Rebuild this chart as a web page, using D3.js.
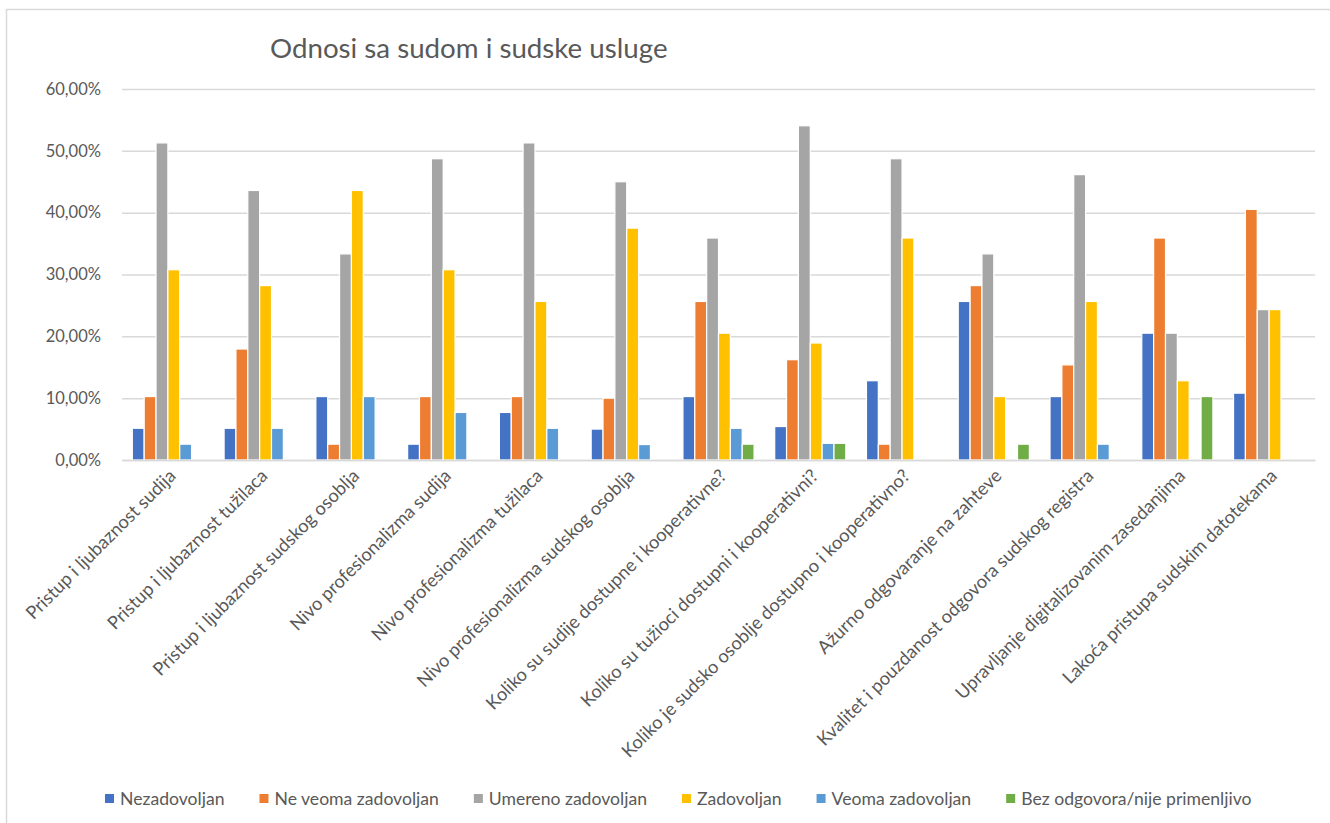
<!DOCTYPE html>
<html>
<head>
<meta charset="utf-8">
<script src="https://cdn.jsdelivr.net/npm/d3@7/dist/d3.min.js"></script>
<style>
  html, body { margin: 0; padding: 0; background: #fff; }
  svg { display: block; font-family: Lato, "Open Sans", sans-serif; }
</style>
</head>
<body>
<svg id="chart" width="1330" height="823"></svg>
<script>
// Survey results: satisfaction with court relations and services (share of answers, %)
const categories = [
  "Pristup i ljubaznost sudija",
  "Pristup i ljubaznost tužilaca",
  "Pristup i ljubaznost sudskog osoblja",
  "Nivo profesionalizma sudija",
  "Nivo profesionalizma tužilaca",
  "Nivo profesionalizma sudskog osoblja",
  "Koliko su sudije dostupne i kooperativne?",
  "Koliko su tužioci dostupni i kooperativni?",
  "Koliko je sudsko osoblje dostupno i kooperativno?",
  "Ažurno odgovaranje na zahteve",
  "Kvalitet i pouzdanost odgovora sudskog registra",
  "Upravljanje digitalizovanim zasedanjima",
  "Lakoća pristupa sudskim datotekama"
];

const seriesNames = [
  "Nezadovoljan",
  "Ne veoma zadovoljan",
  "Umereno zadovoljan",
  "Zadovoljan",
  "Veoma zadovoljan",
  "Bez odgovora/nije primenljivo"
];

const nezadovoljan      = [5.13, 5.13, 10.26, 2.56, 7.69, 5.0, 10.26, 5.41, 12.82, 25.64, 10.26, 20.51, 10.81];
const neVeomaZadovoljan = [10.26, 17.95, 2.56, 10.26, 10.26, 10.0, 25.64, 16.22, 2.56, 28.21, 15.38, 35.90, 40.54];
const umerenoZadovoljan = [51.28, 43.59, 33.33, 48.72, 51.28, 45.0, 35.90, 54.05, 48.72, 33.33, 46.15, 20.51, 24.32];
const zadovoljan        = [30.77, 28.21, 43.59, 30.77, 25.64, 37.5, 20.51, 18.92, 35.90, 10.26, 25.64, 12.82, 24.32];
const veomaZadovoljan   = [2.56, 5.13, 10.26, 7.69, 5.13, 2.5, 5.13, 2.70, 0, 0, 2.56, 0, 0];
const bezOdgovora       = [0, 0, 0, 0, 0, 0, 2.56, 2.70, 0, 2.56, 0, 10.26, 0];

const yTicks = [0, 10, 20, 30, 40, 50, 60];

const seriesValues = [nezadovoljan, neVeomaZadovoljan, umerenoZadovoljan, zadovoljan, veomaZadovoljan, bezOdgovora];
const colors = ["#4472C4", "#ED7D31", "#A5A5A5", "#FFC000", "#5B9BD5", "#70AD47"];

const svg = d3.select("#chart");
const textColor = "#595959";
const gridColor = "#D9D9D9";
const font = "Lato, sans-serif";

// outer chart frame
svg.append("rect")
  .attr("x", 6.5).attr("y", 9.5)
  .attr("width", 1340).attr("height", 830)
  .attr("fill", "none").attr("stroke", gridColor).attr("stroke-width", 1.5);

// plot area
const plotLeft = 122, plotRight = 1315, plotTop = 89, plotBottom = 460;

const x0 = d3.scaleBand()
  .domain(categories)
  .range([plotLeft, plotRight])
  .paddingInner(0.225)
  .paddingOuter(0.1125);

const x1 = d3.scaleBand()
  .domain(seriesNames)
  .range([0, x0.bandwidth()]);

const y = d3.scaleLinear().domain([0, 60]).range([plotBottom, plotTop]);

const fmt = v => d3.format(".2f")(v).replace(".", ",") + "%";

// horizontal gridlines + y labels
const yAxis = d3.axisLeft(y)
  .tickValues(yTicks)
  .tickSize(-(plotRight - plotLeft))
  .tickPadding(21)
  .tickFormat(fmt);

const yG = svg.append("g")
  .attr("transform", `translate(${plotLeft},0)`)
  .call(yAxis);
yG.select(".domain").remove();
yG.selectAll(".tick line").attr("stroke", gridColor).attr("stroke-width", 1.5);
yG.selectAll(".tick text")
  .attr("fill", textColor)
  .attr("font-size", 16.5)
  .attr("font-family", font);

// bars
const groups = svg.append("g").selectAll("g")
  .data(categories)
  .join("g")
  .attr("transform", d => `translate(${x0(d)},0)`);

groups.selectAll("rect")
  .data((c, i) => seriesValues
    .map((vals, s) => ({ series: seriesNames[s], value: vals[i], color: colors[s] }))
    .filter(d => d.value > 0))
  .join("rect")
  .attr("x", d => x1(d.series))
  .attr("y", d => y(d.value))
  .attr("width", x1.bandwidth())
  .attr("height", d => y(0) - y(d.value))
  .attr("fill", d => d.color)
  .attr("stroke", "#fff")
  .attr("stroke-width", 1.2);

// category axis
const xAxis = d3.axisBottom(x0).tickSize(0).tickPadding(0);
const xG = svg.append("g")
  .attr("transform", `translate(0,${plotBottom})`)
  .call(xAxis);
xG.select(".domain").attr("stroke", gridColor).attr("stroke-width", 1.5);
xG.selectAll(".tick text")
  .attr("fill", textColor)
  .attr("font-size", 18.3)
  .attr("font-family", font)
  .attr("text-anchor", "end")
  .attr("dy", 0)
  .attr("transform", "translate(9,17) rotate(-45)");

// title
svg.append("text")
  .attr("x", 270).attr("y", 58)
  .attr("fill", textColor)
  .attr("font-size", 27.7)
  .attr("font-family", font)
  .text("Odnosi sa sudom i sudske usluge");

// legend
const legend = svg.append("g").attr("font-family", font).attr("font-size", 17.6);
let lx = 105;
seriesNames.forEach((name, i) => {
  const g = legend.append("g").attr("transform", `translate(${lx},0)`);
  g.append("rect").attr("x", 0).attr("y", 794).attr("width", 9).attr("height", 9).attr("fill", colors[i]);
  const t = g.append("text").attr("x", 15).attr("y", 805).attr("fill", textColor).text(name);
  lx += 15 + t.node().getComputedTextLength() + 35;
});
</script>
</body>
</html>
